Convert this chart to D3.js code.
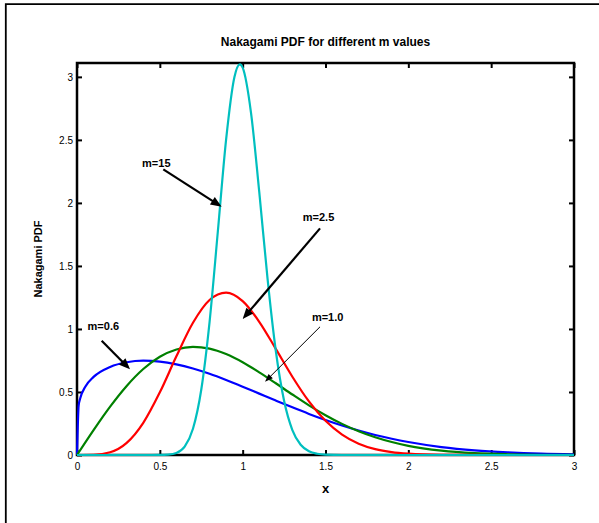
<!DOCTYPE html>
<html>
<head>
<meta charset="utf-8">
<script src="https://cdn.jsdelivr.net/npm/d3@7"></script>
<style>
  html, body { margin: 0; padding: 0; background: #fff; }
  svg { display: block; }
  text { font-family: "Liberation Sans", Arial, Helvetica, sans-serif; fill: #000; }
</style>
</head>
<body>
<svg id="chart" width="599" height="523"></svg>
<script>
// ---- data ----
const xTicks = [0, 0.5, 1, 1.5, 2, 2.5, 3];
const yTicks = [0, 0.5, 1, 1.5, 2, 2.5, 3];
const xTickLabels = ["0", "0.5", "1", "1.5", "2", "2.5", "3"];
const yTickLabels = ["0", "0.5", "1", "1.5", "2", "2.5", "3"];

const m06X = [0, 0.01, 0.02, 0.05, 0.1, 0.2, 0.3, 0.4, 0.5, 0.6, 0.7, 0.8, 0.9, 1.0, 1.1, 1.2, 1.3, 1.4, 1.5, 1.6, 1.7, 1.8, 1.9, 2.0, 2.2, 2.4, 2.6, 2.8, 3.0];
const m06Y = [0, 0.393, 0.452, 0.542, 0.620, 0.699, 0.736, 0.748, 0.741, 0.719, 0.686, 0.644, 0.595, 0.542, 0.487, 0.432, 0.378, 0.326, 0.278, 0.234, 0.194, 0.159, 0.129, 0.103, 0.063, 0.037, 0.021, 0.011, 0.006];

const m10X = [0, 0.1, 0.2, 0.3, 0.4, 0.5, 0.6, 0.7, 0.8, 0.9, 1.0, 1.1, 1.2, 1.3, 1.4, 1.5, 1.6, 1.7, 1.8, 1.9, 2.0, 2.2, 2.4, 2.6, 2.8, 3.0];
const m10Y = [0, 0.198, 0.384, 0.548, 0.682, 0.779, 0.837, 0.858, 0.844, 0.801, 0.736, 0.656, 0.569, 0.480, 0.394, 0.316, 0.247, 0.189, 0.141, 0.103, 0.073, 0.035, 0.015, 0.006, 0.002, 0.001];

const m25X = [0, 0.1, 0.2, 0.3, 0.4, 0.5, 0.6, 0.7, 0.8, 0.9, 1.0, 1.1, 1.2, 1.3, 1.4, 1.5, 1.6, 1.7, 1.8, 1.9, 2.0, 2.2, 2.4, 2.6, 2.8, 3.0];
const m25Y = [0, 0.0015, 0.0215, 0.096, 0.255, 0.497, 0.783, 1.049, 1.230, 1.288, 1.221, 1.057, 0.842, 0.621, 0.425, 0.271, 0.162, 0.090, 0.047, 0.023, 0.011, 0.002, 0.0003, 0, 0, 0];

const m15X = [0, 0.4, 0.45, 0.5, 0.55, 0.6, 0.65, 0.7, 0.75, 0.8, 0.85, 0.9, 0.95, 0.983, 1.0, 1.05, 1.1, 1.15, 1.2, 1.25, 1.3, 1.35, 1.4, 1.45, 1.5, 1.6, 2.0, 3.0];
const m15Y = [0, 0, 0.00004, 0.0004, 0.0032, 0.0167, 0.0667, 0.208, 0.518, 1.053, 1.771, 2.502, 2.997, 3.099, 3.073, 2.719, 2.089, 1.402, 0.827, 0.430, 0.198, 0.081, 0.030, 0.0097, 0.0028, 0.0002, 0, 0];

const seriesNames = ["m=0.6", "m=1.0", "m=2.5", "m=15"];
const seriesColors = ["#0000ff", "#008000", "#ff0000", "#00bfbf"];

// annotations in data units: label position, arrow start, arrow end
const annLabels = ["m=15", "m=2.5", "m=1.0", "m=0.6"];
const annTextX = [0.393, 1.363, 1.418, 0.064];
const annTextY = [2.288, 1.860, 1.067, 0.991];
const annFromX = [0.521, 1.467, 1.467, 0.149];
const annFromY = [2.266, 1.798, 1.017, 0.906];
const annToX = [0.873, 1.000, 1.135, 0.320];
const annToY = [1.970, 1.079, 0.581, 0.680];
const annThick = [true, true, false, true];

// ---- layout ----
const svg = d3.select("#chart");
const L = 77, R = 574, T = 63, B = 455;
const x = d3.scaleLinear().domain([0, 3]).range([L, R]);
const y = d3.scaleLinear().domain([0, 3.11]).range([B, T]);

// outer figure frame (partially visible)
svg.append("path")
  .attr("d", "M5.8,523 V4.2 H599")
  .attr("fill", "none").attr("stroke", "#000").attr("stroke-width", 1.8);

// title
svg.append("text")
  .attr("x", (L + R) / 2).attr("y", 45.5)
  .attr("text-anchor", "middle")
  .attr("font-size", 12).attr("font-weight", "bold")
  .text("Nakagami PDF for different m values");

// axes
const fmtX = (d, i) => xTickLabels[i];
const fmtY = (d, i) => yTickLabels[i];

const gx = svg.append("g").attr("transform", `translate(0,${B})`)
  .call(d3.axisBottom(x).tickValues(xTicks).tickFormat(fmtX).tickSizeInner(-5).tickSizeOuter(0).tickPadding(7.4));
const gxt = svg.append("g").attr("transform", `translate(0,${T})`)
  .call(d3.axisTop(x).tickValues(xTicks).tickFormat("").tickSizeInner(-5).tickSizeOuter(0));
const gy = svg.append("g").attr("transform", `translate(${L},0)`)
  .call(d3.axisLeft(y).tickValues(yTicks).tickFormat(fmtY).tickSizeInner(-5).tickSizeOuter(0).tickPadding(4));
const gyr = svg.append("g").attr("transform", `translate(${R},0)`)
  .call(d3.axisRight(y).tickValues(yTicks).tickFormat("").tickSizeInner(-5).tickSizeOuter(0));

[gx, gxt, gy, gyr].forEach(g => {
  g.select(".domain").remove();
  g.selectAll(".tick line").attr("stroke", "#000").attr("stroke-width", 2);
  g.selectAll(".tick text").attr("font-size", 10).attr("fill", "#000")
    .attr("font-family", "'Liberation Sans', Arial, Helvetica, sans-serif");
});

// box
svg.append("rect")
  .attr("x", L).attr("y", T).attr("width", R - L).attr("height", B - T)
  .attr("fill", "none").attr("stroke", "#000").attr("stroke-width", 2.5);

// axis labels
svg.append("text")
  .attr("x", (L + R) / 2).attr("y", 493)
  .attr("text-anchor", "middle")
  .attr("font-size", 13).attr("font-weight", "bold")
  .text("x");

svg.append("text")
  .attr("transform", `translate(41.5,${(T + B) / 2}) rotate(-90)`)
  .attr("text-anchor", "middle")
  .attr("font-size", 11).attr("font-weight", "bold")
  .text("Nakagami PDF");

// curves
const seriesX = [m06X, m10X, m25X, m15X];
const seriesY = [m06Y, m10Y, m25Y, m15Y];
const line = d3.line()
  .x(d => x(d[0])).y(d => y(d[1]))
  .curve(d3.curveMonotoneX);

seriesX.forEach((xs, k) => {
  const pts = xs.map((v, i) => [v, seriesY[k][i]]);
  svg.append("path")
    .datum(pts)
    .attr("d", line)
    .attr("fill", "none")
    .attr("stroke", seriesColors[k])
    .attr("stroke-width", 2.2)
    .attr("stroke-linejoin", "round");
});

// annotations
annLabels.forEach((lab, i) => {
  svg.append("text")
    .attr("x", x(annTextX[i])).attr("y", y(annTextY[i]))
    .attr("font-size", 11).attr("font-weight", "bold")
    .text(lab);

  const x1 = x(annFromX[i]), y1 = y(annFromY[i]);
  const x2 = x(annToX[i]), y2 = y(annToY[i]);
  const dx = x2 - x1, dy = y2 - y1, len = Math.hypot(dx, dy);
  const ux = dx / len, uy = dy / len;
  const thick = annThick[i];
  const hl = thick ? 11 : 8, hw = thick ? 4.5 : 3;
  const bx = x2 - ux * hl, by = y2 - uy * hl;
  svg.append("line")
    .attr("x1", x1).attr("y1", y1).attr("x2", bx + ux * 1).attr("y2", by + uy * 1)
    .attr("stroke", "#000").attr("stroke-width", thick ? 2.2 : 1);
  svg.append("path")
    .attr("d", `M${x2},${y2} L${bx - uy * hw},${by + ux * hw} L${bx + uy * hw},${by - ux * hw} Z`)
    .attr("fill", "#000").attr("stroke", "none");
});
</script>
</body>
</html>
